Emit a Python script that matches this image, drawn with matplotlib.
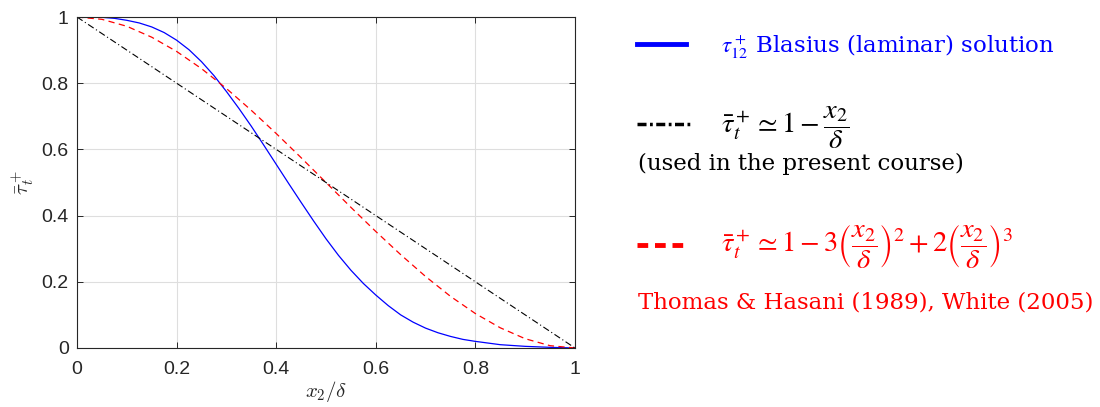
import matplotlib
matplotlib.use("Agg")
import matplotlib.pyplot as plt
from matplotlib.lines import Line2D

# Blasius (laminar) shear stress
blas_x = [0, .025, .05, .075, .1, .125, .15, .175, .2, .225, .25, .275, .3,
          .325, .35, .375, .4, .425, .45, .475, .5, .525, .55, .575, .6, .625,
          .65, .675, .7, .725, .75, .775, .8, .85, .9, .95, 1]
blasius = [1, 1, 0.999, 0.996, 0.99, 0.982, 0.97, 0.953, 0.93, 0.901, 0.865,
           0.823, 0.775, 0.724, 0.67, 0.613, 0.555, 0.497, 0.44, 0.384, 0.33,
           0.28, 0.235, 0.195, 0.16, 0.128, 0.10, 0.078, 0.06, 0.046, 0.035,
           0.026, 0.02, 0.01, 0.005, 0.002, 0.0]
# Thomas & Hasani / White cubic profile
cub_x = [0, .05, .1, .15, .2, .25, .3, .35, .4, .45, .5,
         .55, .6, .65, .7, .75, .8, .85, .9, .95, 1]
cubic = [1, 0.993, 0.972, 0.939, 0.896, 0.844, 0.784, 0.718, 0.648, 0.575, 0.5,
         0.425, 0.352, 0.282, 0.216, 0.156, 0.104, 0.061, 0.028, 0.007, 0.0]
# linear profile used in the course
lin_x = [0, 1]
lin_y = [1, 0]
ticks = [0, 0.2, 0.4, 0.6, 0.8, 1]
tick_labels = ['0', '0.2', '0.4', '0.6', '0.8', '1']

plt.rcParams['mathtext.fontset'] = 'cm'

fig = plt.figure(figsize=(11, 4.07), dpi=100)
ax = fig.add_axes([77/1100, 1-348/407, (575-77)/1100, (348-17)/407])

ax.plot(blas_x, blasius, color='blue', lw=0.9)
ax.plot(cub_x, cubic, color='red', lw=0.9, dashes=(5, 3.5))
ax.plot(lin_x, lin_y, color='black', lw=0.8, dashes=(6, 2.5, 1, 2.5))

ax.set_xlim(0, 1)
ax.set_ylim(0, 1)
ax.set_xticks(ticks)
ax.set_yticks(ticks)
ax.set_xticklabels(tick_labels, fontfamily='Liberation Sans')
ax.set_yticklabels(tick_labels, fontfamily='Liberation Sans')
ax.grid(True, color='#dedede', lw=0.8)
ax.set_axisbelow(True)
ax.tick_params(direction='in', top=True, right=True, length=4, width=0.7,
               colors='#262626', labelsize=14)
ax.tick_params(axis='x', pad=9)
ax.tick_params(axis='y', pad=6)
for s in ax.spines.values():
    s.set_color('#262626')
    s.set_linewidth(0.8)
ax.set_xlabel(r'$x_2/\delta$', fontsize=15, color='#262626', labelpad=1)
ax.set_ylabel(r'$\bar{\tau}_t^+$', fontsize=15, color='#262626', labelpad=4)

# legend drawn by hand on the right side
def yf(py):
    return 1 - py / 407

def xf(px):
    return px / 1100

fig.add_artist(Line2D([xf(637), xf(686)], [yf(44), yf(44)], color='blue', lw=3.5))
fig.add_artist(Line2D([xf(637), xf(690)], [yf(124), yf(124)], color='black', lw=2.5,
                      dashes=(2.6, 1, 0.8, 1)))
fig.add_artist(Line2D([xf(637), xf(686)], [yf(245), yf(245)], color='red', lw=3.5,
                      dashes=(2.2, 1.4)))

tkw = dict(family='DejaVu Serif', fontsize=16.5, va='center', ha='left')
mkw = dict(tkw, fontsize=20.5, math_fontfamily='stix')
fig.text(xf(721), yf(46), r'$\mathit{\tau}^+_{12}$ Blasius (laminar) solution',
         color='blue', math_fontfamily='stix', **tkw)
fig.text(xf(721), yf(128), r'$\bar{\tau}_t^+ \simeq 1-\dfrac{x_2}{\delta}$',
         color='black', **mkw)
fig.text(xf(638), yf(164), '(used in the present course)', color='black', **tkw)
fig.text(xf(721), yf(246),
         r'$\bar{\tau}_t^+ \simeq 1-3\left(\dfrac{x_2}{\delta}\right)^2'
         r'+2\left(\dfrac{x_2}{\delta}\right)^3$',
         color='red', **mkw)
fig.text(xf(638), yf(302), 'Thomas & Hasani (1989), White (2005)', color='red', **tkw)

fig.savefig('out.png', dpi=100)
